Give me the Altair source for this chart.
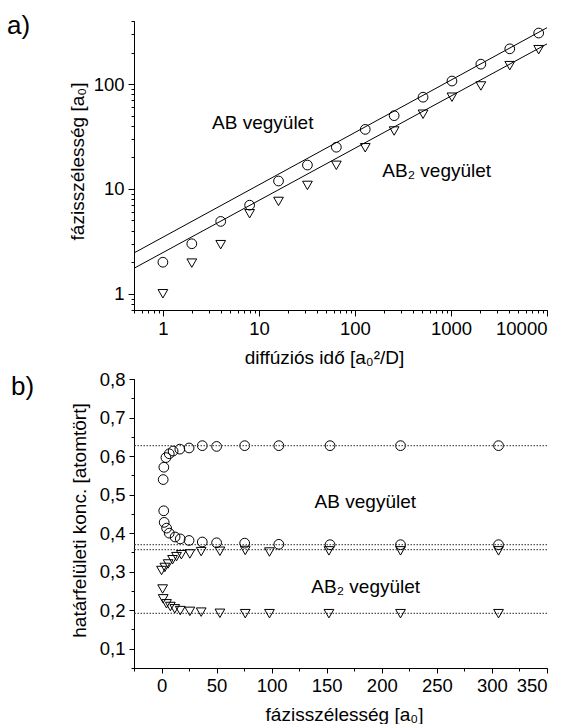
import altair as alt
import pandas as pd

FONT = "Liberation Sans"

# ---------------- panel a) data ----------------
t_ab = [1, 2, 4, 8, 16, 32, 64, 128, 256, 512, 1024, 2048, 4096, 8192]
w_ab = [2, 3, 4.9, 7, 11.9, 16.9, 25, 37, 50, 75, 107, 155, 217, 307]
t_ab2 = [1, 2, 4, 8, 16, 32, 64, 128, 256, 512, 1024, 2048, 4096, 8192]
w_ab2 = [1, 1.96, 2.94, 5.8, 7.6, 10.8, 16.8, 24.7, 35.7, 51.6, 75, 96, 150, 213]
fit_t = [0.5, 10000]
fit_ab = [2.45, 345]
fit_ab2 = [1.75, 242]
lab_a_x = [3.25, 193]
lab_a_y = [43, 14.8]
lab_a_txt = ["AB vegyület", "AB₂ vegyület"]

# ---------------- panel b) data ----------------
x_ab = [1.5, 2.1, 4, 7, 10.5, 16.6, 25, 37, 50, 75.5, 106.5, 153, 217, 306]
c_ab_hi = [0.539, 0.571, 0.596, 0.606, 0.613, 0.618, 0.621, 0.627, 0.625, 0.627, 0.627, 0.627, 0.627, 0.627]
x_ab_lo = [2, 2.4, 4.6, 7, 12.3, 17, 25, 37, 50, 75.5, 106.5, 153, 217, 306]
c_ab_lo = [0.458, 0.428, 0.413, 0.400, 0.390, 0.385, 0.381, 0.377, 0.375, 0.374, 0.371, 0.370, 0.370, 0.370]
x_ab2_hi = [0, 3, 6, 10, 13.6, 18, 25.7, 36, 53, 76, 98, 152, 217, 306]
c_ab2_hi = [0.303, 0.311, 0.320, 0.331, 0.339, 0.344, 0.346, 0.352, 0.353, 0.355, 0.351, 0.354, 0.354, 0.354]
x_ab2_lo = [1, 1.5, 4.5, 8, 12, 17, 25.7, 36, 53, 76, 98, 152, 217, 306]
c_ab2_lo = [0.255, 0.2295, 0.2166, 0.2096, 0.2036, 0.199, 0.197, 0.195, 0.192, 0.191, 0.191, 0.191, 0.191, 0.191]
eq_levels = [0.627, 0.370, 0.357, 0.192]
lab_b_x = [139, 136]
lab_b_y = [0.482, 0.26]
lab_b_txt = ["AB vegyület", "AB₂ vegyület"]

# ---------------- common styling ----------------
LBL = 18.5
TTL = 19
SYM = 95


def axis(**kw):
    base = dict(grid=False, domainColor="black", tickColor="black", labelColor="black",
                titleColor="black", labelFont=FONT, titleFont=FONT, labelFontSize=LBL,
                titleFontSize=TTL, titleFontWeight="normal", domainWidth=1, tickWidth=1)
    base.update(kw)
    return alt.Axis(**base)


# ================= panel a =================
xs_a = alt.Scale(type="log", domain=[0.5, 10000], nice=False)
ys_a = alt.Scale(type="log", domain=[0.7, 400], nice=False)

minor_x_a = [v * m for m in (0.1, 1, 10, 100, 1000) for v in range(2, 10)]
minor_x_a = [v for v in minor_x_a if 0.5 <= v <= 10000]
minor_y_a = [v * m for m in (0.1, 1, 10, 100) for v in range(2, 10)]
minor_y_a = [v for v in minor_y_a if 0.7 <= v <= 400]

df_ab = pd.DataFrame({"t": t_ab, "w": w_ab})
df_ab2 = pd.DataFrame({"t": t_ab2, "w": w_ab2})
df_fit = pd.DataFrame({"t": fit_t * 2, "w": fit_ab + fit_ab2,
                       "s": ["AB", "AB"] + ["AB2", "AB2"]})
df_lab_a = pd.DataFrame({"t": lab_a_x, "w": lab_a_y, "txt": lab_a_txt})

major_xa = axis(values=[1, 10, 100, 1000, 10000], format="d", tickSize=6, labelPadding=3,
                title="diffúziós idő [a₀²/D]", titleX=190, titleY=47, titleBaseline="middle",
                orient="bottom")
major_ya = axis(values=[1, 10, 100], format="d", tickSize=6, labelPadding=4,
                title="fázisszélesség [a₀]", titleX=-57, titleY=140, titleBaseline="middle",
                orient="left")
minor_xa = axis(values=minor_x_a, labels=False, tickSize=3, title=None, orient="bottom")
minor_ya = axis(values=minor_y_a, labels=False, tickSize=3, title=None, orient="left")

circ_a = alt.Chart(df_ab).mark_point(shape="circle", filled=False, color="black",
                                     strokeWidth=1, size=SYM, opacity=1).encode(
    x=alt.X("t:Q", scale=xs_a, axis=major_xa),
    y=alt.Y("w:Q", scale=ys_a, axis=major_ya),
)
tri_a = alt.Chart(df_ab2).mark_point(shape="triangle-down", filled=False, color="black",
                                     strokeWidth=1, size=SYM, opacity=1).encode(
    x=alt.X("t:Q", scale=xs_a, axis=None),
    y=alt.Y("w:Q", scale=ys_a, axis=None),
)
fit_a = alt.Chart(df_fit).mark_line(color="black", strokeWidth=1).encode(
    x=alt.X("t:Q", scale=xs_a, axis=minor_xa),
    y=alt.Y("w:Q", scale=ys_a, axis=minor_ya),
    detail="s:N",
)
txt_a = alt.Chart(df_lab_a).mark_text(align="left", baseline="middle", font=FONT,
                                      fontSize=TTL, color="black").encode(
    x=alt.X("t:Q", scale=xs_a, axis=None),
    y=alt.Y("w:Q", scale=ys_a, axis=None),
    text="txt:N",
)
tag_a = alt.Chart(pd.DataFrame({"tag": ["a)"]})).mark_text(
    align="left", baseline="top", font=FONT, fontSize=26, color="black").encode(
    x=alt.value(-127), y=alt.value(-7.7), text="tag:N")

panel_a = alt.layer(circ_a, fit_a, tri_a, txt_a, tag_a).resolve_axis(
    x="independent", y="independent").properties(width=413, height=289)

# ================= panel b =================
xs_b = alt.Scale(domain=[-25, 350], nice=False, zero=False)
ys_b = alt.Scale(domain=[0.05, 0.8], nice=False, zero=False)

df_hi = pd.DataFrame({"x": x_ab, "c": c_ab_hi})
df_lo = pd.DataFrame({"x": x_ab_lo, "c": c_ab_lo})
df_t_hi = pd.DataFrame({"x": x_ab2_hi, "c": c_ab2_hi})
df_t_lo = pd.DataFrame({"x": x_ab2_lo, "c": c_ab2_lo})
df_eq = pd.DataFrame({"c": eq_levels})
df_lab_b = pd.DataFrame({"x": lab_b_x, "c": lab_b_y, "txt": lab_b_txt})

comma = "replace(format(datum.value, '.1f'), '.', ',')"
major_xb = axis(values=[0, 50, 100, 150, 200, 250, 300, 350], format="d", tickSize=5,
                labelPadding=3, title="fázisszélesség [a₀]", titleX=210, titleY=46,
                titleBaseline="middle", orient="bottom")
major_yb = axis(values=[0.1, 0.2, 0.3, 0.4, 0.5, 0.6, 0.7, 0.8], labelExpr=comma, tickSize=5,
                labelPadding=4, title="határfelületi konc. [atomtört]", titleX=-55,
                titleY=141, titleBaseline="middle", orient="left")
minor_xb = axis(values=[-25, 25, 75, 125, 175, 225, 275, 325], labels=False, tickSize=3,
                title=None, orient="bottom")
minor_yb = axis(values=[0.05, 0.15, 0.25, 0.35, 0.45, 0.55, 0.65, 0.75], labels=False,
                tickSize=3, title=None, orient="left")

rules_b = alt.Chart(df_eq).mark_rule(color="#555555", strokeWidth=1.2,
                                     strokeDash=[1.5, 1.5]).encode(
    y=alt.Y("c:Q", scale=ys_b, axis=minor_yb),
)


def sym(df, shape, ax_x=None, ax_y=None):
    return alt.Chart(df).mark_point(shape=shape, filled=False, color="black", strokeWidth=1,
                                    size=SYM, opacity=1).encode(
        x=alt.X("x:Q", scale=xs_b, axis=ax_x),
        y=alt.Y("c:Q", scale=ys_b, axis=ax_y),
    )


c_hi = sym(df_hi, "circle", major_xb, major_yb)
c_lo = sym(df_lo, "circle")
t_hi = sym(df_t_hi, "triangle-down")
t_lo = sym(df_t_lo, "triangle-down", minor_xb)
txt_b = alt.Chart(df_lab_b).mark_text(align="left", baseline="middle", font=FONT,
                                      fontSize=TTL, color="black").encode(
    x=alt.X("x:Q", scale=xs_b, axis=None),
    y=alt.Y("c:Q", scale=ys_b, axis=None),
    text="txt:N",
)
tag_b = alt.Chart(pd.DataFrame({"tag": ["b)"]})).mark_text(
    align="left", baseline="top", font=FONT, fontSize=26, color="black").encode(
    x=alt.value(-123), y=alt.value(-5), text="tag:N")

panel_b = alt.layer(c_hi, rules_b, c_lo, t_hi, t_lo, txt_b, tag_b).resolve_axis(
    x="independent", y="independent").properties(width=413, height=289)

chart = alt.vconcat(panel_a, panel_b, spacing=69, bounds="flush").properties(
    padding={"left": 7, "top": 13, "right": 0, "bottom": 0},
    background="white",
).configure_view(stroke=None)

chart.save("out.html", embed_options={"renderer": "svg", "actions": False})
